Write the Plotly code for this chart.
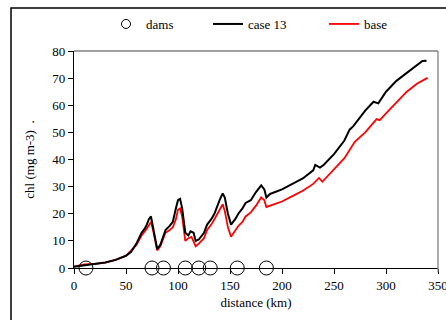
import plotly.graph_objects as go

# Chlorophyll along the river, km from upstream end
dist_case13 = [0, 10, 20, 30, 40, 50, 55, 60, 65, 68, 70, 72, 74, 75, 78, 80, 83, 86, 88,
               92, 95, 98, 100, 102, 104, 107, 110, 112, 115, 117, 120, 125, 128, 132, 135,
               140, 143, 145, 148, 151, 155, 158, 162, 165, 170, 175, 180, 183, 185, 188.5,
               200, 210, 220, 230, 232, 236.5, 240, 250, 260, 265, 268.6, 280, 288, 292.6,
               300, 310, 320, 330, 335, 339]
chl_case13 = [0.5, 1.0, 1.5, 2.0, 3.0, 4.5, 6.0, 9.0, 13.0, 14.5, 16.0, 18.0, 19.0, 17.0, 10.0,
              7.0, 8.5, 12.0, 14.0, 15.5, 17.0, 22.0, 25.0, 25.5, 22.0, 13.0, 12.0, 13.5, 13.0,
              10.0, 10.5, 13.0, 16.0, 18.0, 20.0, 25.0, 27.5, 26.0, 20.0, 16.0, 18.0, 20.0,
              22.0, 24.0, 25.0, 28.0, 30.5, 29.0, 26.0, 27.3, 29.0, 31.0, 33.0, 36.0, 38.0,
              37.0, 38.0, 42.0, 47.0, 51.0, 52.3, 58.0, 61.3, 60.7, 65.0, 69.0, 72.0, 75.0,
              76.3, 76.4]

dist_base = [0, 10, 20, 30, 40, 50, 60, 65, 70, 74, 76, 80, 83, 88, 92, 95, 98, 100, 102,
             104, 107, 110, 113, 117, 120, 125, 128, 132, 135, 140, 143, 145, 148, 151, 155,
             158, 162, 165, 170, 175, 180, 183, 185, 188.5, 200, 210, 220, 230, 235.6, 238.8,
             250, 260, 270, 280, 291, 294, 300, 310, 320, 330, 340]
chl_base = [0.5, 1.3, 1.5, 2.0, 3.0, 4.5, 8.5, 12.0, 14.5, 17.0, 14.0, 6.5, 8.0, 13.0, 14.0,
            15.0, 18.0, 21.5, 22.0, 19.0, 10.0, 11.0, 11.5, 8.0, 9.0, 11.0, 14.0, 16.0, 18.0,
            21.5, 23.5, 21.0, 15.0, 11.5, 14.0, 15.5, 17.0, 19.0, 20.5, 23.0, 26.0, 25.0, 22.5,
            23.0, 24.5, 26.5, 28.5, 31.0, 33.2, 31.8, 36.5, 40.5, 46.5, 50.0, 54.9, 54.5, 57.0,
            61.0, 65.0, 68.0, 70.1]

# Dam locations (km)
dam_km = [11.5, 75, 86, 107, 120, 131, 157, 185]
dam_level = [0, 0, 0, 0, 0, 0, 0, 0]

x_ticks = [0, 50, 100, 150, 200, 250, 300, 350]
y_ticks = [0, 10, 20, 30, 40, 50, 60, 70, 80]

SERIF = '"Liberation Serif", "Times New Roman", "DejaVu Serif", serif'

# plot area in pixels: x 74..438, y 51..268
L, R, T, B = 74, 438, 51, 268
W, H = 446, 320


def px_x(p):
    return (p - L) / (R - L)


def px_y(p):
    return (B - p) / (B - T)


fig = go.Figure()

fig.add_trace(go.Scatter(
    x=dist_base, y=chl_base, mode="lines", name="base",
    line=dict(color="#ff0000", width=1.8), legend="legend3"))
fig.add_trace(go.Scatter(
    x=dist_case13, y=chl_case13, mode="lines", name="case 13",
    line=dict(color="#000000", width=2), legend="legend2"))
fig.add_trace(go.Scatter(
    x=dam_km, y=dam_level, mode="markers", name="dams", cliponaxis=False,
    showlegend=False,
    marker=dict(symbol="circle-open", size=14, color="#000000", line=dict(width=1))))
# legend key for the dams, drawn with a smaller symbol
fig.add_trace(go.Scatter(
    x=[None], y=[None], mode="markers", name="dams",
    marker=dict(symbol="circle-open", size=9, color="#000000", line=dict(width=1)),
    legend="legend"))

legend_common = dict(orientation="h", yanchor="middle", xanchor="left",
                     bgcolor="rgba(0,0,0,0)", itemwidth=30,
                     font=dict(family=SERIF, size=13, color="#000000"))

fig.update_layout(
    width=W, height=H,
    showlegend=True,
    margin=dict(l=L, r=W - R, t=T, b=H - B, autoexpand=False),
    paper_bgcolor="white", plot_bgcolor="white",
    font=dict(family=SERIF, size=13, color="#000000"),
    legend=dict(x=px_x(106), y=px_y(24), **legend_common),
    legend2=dict(x=px_x(208), y=px_y(24), **legend_common),
    legend3=dict(x=px_x(324), y=px_y(24), **legend_common),
    xaxis=dict(range=[0, 350], tickvals=x_ticks, ticks="outside", ticklen=5,
               tickcolor="#000000", showgrid=False, zeroline=False,
               showline=True, linecolor="#000000", linewidth=1.3,
               ticklabeloverflow="allow", automargin=False,
               title=dict(text="distance (km)", standoff=6,
                          font=dict(family=SERIF, size=13)),
               tickfont=dict(family=SERIF, size=13)),
    yaxis=dict(range=[0, 80], tickvals=y_ticks, ticks="outside", ticklen=5,
               tickcolor="#000000", showgrid=False, zeroline=False,
               showline=True, linecolor="#000000", linewidth=1.3,
               automargin=False,
               title=dict(text="chl (mg m-3)  .", standoff=14,
                          font=dict(family=SERIF, size=13)),
               tickfont=dict(family=SERIF, size=13)),
    shapes=[
        # top and right edges of the plot box
        dict(type="line", xref="paper", yref="paper", x0=0, x1=1, y0=1, y1=1,
             line=dict(color="#808080", width=1.3)),
        dict(type="line", xref="paper", yref="paper", x0=1, x1=1, y0=px_y(272), y1=1,
             line=dict(color="#808080", width=1.3)),
        # outer chart frame
        dict(type="rect", xref="paper", yref="paper",
             x0=px_x(11), x1=px_x(452), y0=px_y(326), y1=px_y(8),
             line=dict(color="#000000", width=1.5), fillcolor="rgba(0,0,0,0)",
             layer="below"),
    ],
)

fig.write_html("out.html")
